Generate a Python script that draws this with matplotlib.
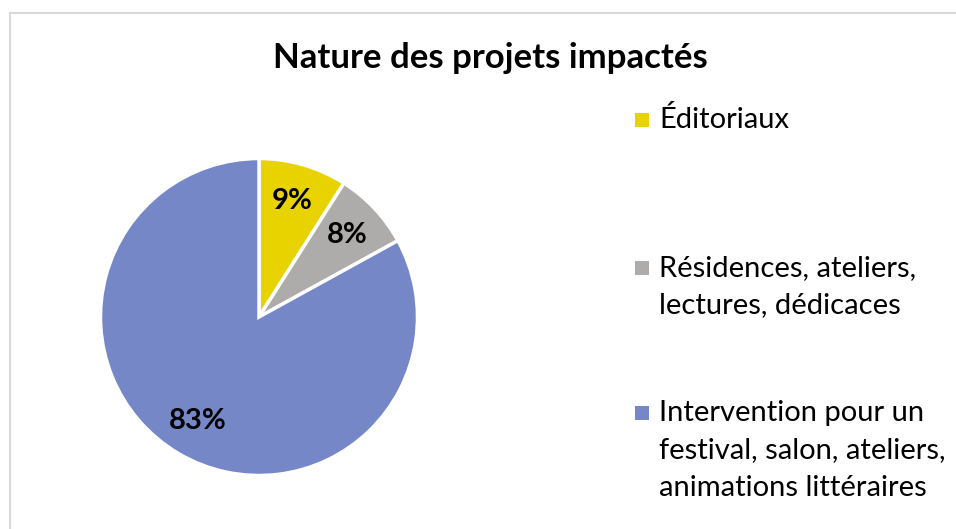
import matplotlib.pyplot as plt
from matplotlib.patches import Rectangle

# data
categories = ["Éditoriaux",
              "Résidences, ateliers,\nlectures, dédicaces",
              "Intervention pour un\nfestival, salon, ateliers,\nanimations littéraires"]
values = [9, 8, 83]
colors = ["#E8D200", "#AEACAA", "#7587C7"]
title = "Nature des projets impactés"

plt.rcParams['font.family'] = ['Lato', 'DejaVu Sans']

W, H = 956, 529
fig = plt.figure(figsize=(W / 100, H / 100), dpi=100)

# light grey chart border (only top and left visible in the crop)
fig.patches.append(Rectangle((9.5 / W, -0.1), 2, (H - 12.5) / H + 0.1,
                             transform=fig.transFigure, fill=False,
                             edgecolor="#D9D9D9", lw=1.5))

# pie: centre (259, 317) px, radius ~158 px
cx, cy, r = 259, 317, 158.5
ax = fig.add_axes([(cx - r) / W, (H - cy - r) / H, 2 * r / W, 2 * r / H])
wedges, texts, autotexts = ax.pie(values, colors=colors, startangle=90, counterclock=False,
                                  autopct='%d%%', pctdistance=0.76, radius=1,
                                  wedgeprops=dict(edgecolor='white', linewidth=2.5),
                                  textprops=dict(fontsize=21, fontweight='bold', color='black'))
ax.set_xlim(-1, 1)
ax.set_ylim(-1, 1)

fig.text(490 / W, 1 - 58 / H, title, ha='center', va='center',
         fontsize=25, fontweight='bold')

# legend drawn line by line to match the spacing of the original
entry_y = [120, 268, 413]
line_step = 37.5
for label, col, y0 in zip(categories, colors, entry_y):
    fig.patches.append(Rectangle((635 / W, 1 - (y0 + 7) / H), 14 / W, 14 / H,
                                 transform=fig.transFigure, color=col, lw=0))
    for i, line in enumerate(label.split("\n")):
        fig.text(659 / W, 1 - (y0 + i * line_step) / H, line, ha='left',
                 va='center', fontsize=21)

fig.savefig("out.png", dpi=100)
